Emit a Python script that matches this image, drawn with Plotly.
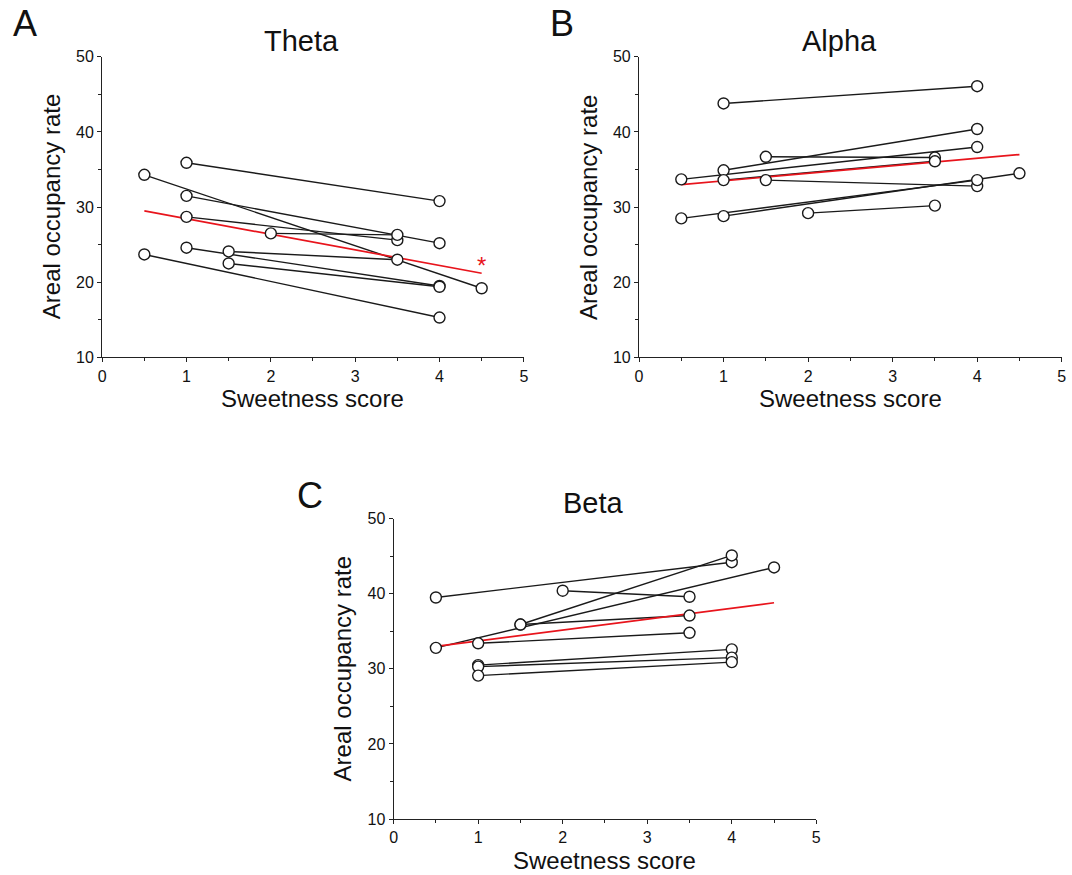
import plotly.graph_objects as go

W, H = 1072, 875

# ---------------- data ----------------
# Theta
theta_x0 = [1, 0.5, 1, 1, 2, 1.5, 1, 1.5, 0.5]
theta_y0 = [35.9, 34.3, 31.5, 28.7, 26.5, 24.1, 24.6, 22.5, 23.7]
theta_x1 = [4, 4.5, 4, 3.5, 3.5, 3.5, 4, 4, 4]
theta_y1 = [30.8, 19.2, 25.2, 25.6, 26.3, 23.0, 19.5, 19.4, 15.3]
theta_fit_x = [0.5, 4.5]
theta_fit_y = [29.5, 21.2]

# Alpha
alpha_x0 = [1, 1, 0.5, 1.5, 1, 1.5, 0.5, 1, 2]
alpha_y0 = [43.8, 34.9, 33.7, 36.7, 33.6, 33.6, 28.5, 28.8, 29.2]
alpha_x1 = [4, 4, 4, 3.5, 3.5, 4, 4, 4.5, 3.5]
alpha_y1 = [46.1, 40.4, 38.0, 36.6, 36.1, 32.8, 33.6, 34.5, 30.2]
alpha_fit_x = [0.5, 4.5]
alpha_fit_y = [33.0, 37.0]

# Beta
beta_x0 = [0.5, 0.5, 1.5, 1.5, 2, 1, 1, 1, 1]
beta_y0 = [39.5, 32.8, 35.9, 35.9, 40.4, 33.4, 30.5, 30.3, 29.1]
beta_x1 = [4, 4.5, 4, 3.5, 3.5, 3.5, 4, 4, 4]
beta_y1 = [44.2, 43.5, 45.1, 37.1, 39.6, 34.8, 32.6, 31.5, 30.9]
beta_fit_x = [0.5, 4.5]
beta_fit_y = [33.0, 38.8]

panel_titles = ["Theta", "Alpha", "Beta"]
panel_letters = ["A", "B", "C"]
x_title = "Sweetness score"
y_title = "Areal occupancy rate"
x_ticks = [0, 1, 2, 3, 4, 5]
y_ticks = [10, 20, 30, 40, 50]

FONT = "Arial, Liberation Sans, Helvetica, sans-serif"

# compensation for observed capture transform
SX, OX = 0.990, 4.0
SY, OY = 0.979, 9.2


def px(x):
    return ((x - OX) / SX) / W


def py(y):
    return 1 - ((y - OY) / SY) / H


# pixel boxes of the plotting areas: (left, right, top, bottom)
boxes = [(102, 523, 58, 358), (638, 1060, 58, 358), (393, 815, 519, 819)]

fig = go.Figure()

panels = [
    (theta_x0, theta_y0, theta_x1, theta_y1, theta_fit_x, theta_fit_y),
    (alpha_x0, alpha_y0, alpha_x1, alpha_y1, alpha_fit_x, alpha_fit_y),
    (beta_x0, beta_y0, beta_x1, beta_y1, beta_fit_x, beta_fit_y),
]

annotations = []
for i, (x0, y0, x1, y1, fx, fy) in enumerate(panels):
    sfx = "" if i == 0 else str(i + 1)
    xa, ya = "x" + sfx, "y" + sfx
    lx, ly = [], []
    for a, b, c, d in zip(x0, y0, x1, y1):
        lx += [a, c, None]
        ly += [b, d, None]
    fig.add_trace(go.Scatter(x=lx, y=ly, mode="lines", xaxis=xa, yaxis=ya,
                             line=dict(color="#1a1a1a", width=1.4),
                             showlegend=False, hoverinfo="skip", cliponaxis=False))
    fig.add_trace(go.Scatter(x=fx, y=fy, mode="lines", xaxis=xa, yaxis=ya,
                             line=dict(color="#e8141c", width=1.7),
                             showlegend=False, cliponaxis=False))
    fig.add_trace(go.Scatter(x=list(x0) + list(x1), y=list(y0) + list(y1), mode="markers",
                             xaxis=xa, yaxis=ya,
                             marker=dict(symbol="circle", size=11, color="white",
                                         line=dict(color="#1a1a1a", width=1.4)),
                             showlegend=False, cliponaxis=False))
    l, r, t, b = boxes[i]
    axis_common = dict(showline=True, linecolor="#222", linewidth=1.2, showgrid=False,
                       zeroline=False, ticks="outside", ticklen=4, tickwidth=1.2,
                       tickcolor="#222", tickfont=dict(family=FONT, size=16, color="#111"),
                       fixedrange=True)
    fig.layout["xaxis" + sfx] = dict(axis_common, domain=[px(l), px(r)], range=[0, 5],
                                     tickvals=x_ticks, anchor=ya,
                                     minor=dict(dtick=0.5, ticklen=3, ticks="outside",
                                                tickcolor="#222", tickwidth=1))
    fig.layout["yaxis" + sfx] = dict(axis_common, domain=[py(b), py(t)], range=[10, 50],
                                     tickvals=y_ticks, anchor=xa,
                                     minor=dict(dtick=5, ticklen=3, ticks="outside",
                                                tickcolor="#222", tickwidth=1))
    cx = (l + r) / 2
    cy = (t + b) / 2
    annotations.append(dict(text=panel_titles[i], x=px(cx - 11), y=py(t - 16), xref="paper",
                            yref="paper", showarrow=False, xanchor="center", yanchor="middle",
                            font=dict(family=FONT, size=29, color="#111")))
    annotations.append(dict(text=x_title, x=px(cx), y=py(b + 41), xref="paper", yref="paper",
                            showarrow=False, xanchor="center", yanchor="middle",
                            font=dict(family=FONT, size=24, color="#111")))
    annotations.append(dict(text=y_title, x=px(l - 51), y=py(cy), xref="paper", yref="paper",
                            showarrow=False, xanchor="center", yanchor="middle", textangle=-90,
                            font=dict(family=FONT, size=24, color="#111")))

letter_pos = [(25, 25), (561, 25), (310, 496)]
for letter, (lxp, lyp) in zip(panel_letters, letter_pos):
    annotations.append(dict(text=letter, x=px(lxp), y=py(lyp), xref="paper", yref="paper",
                            showarrow=False, xanchor="center", yanchor="middle",
                            font=dict(family=FONT, size=36, color="#111")))

# significance star on Theta fit
annotations.append(dict(text="*", x=theta_fit_x[1], y=theta_fit_y[1], xref="x", yref="y",
                        showarrow=False, xanchor="center", yanchor="bottom", yshift=-8,
                        font=dict(family=FONT, size=24, color="#e8141c")))

fig.update_layout(width=W, height=H, margin=dict(l=0, r=0, t=0, b=0),
                  paper_bgcolor="white", plot_bgcolor="white", annotations=annotations,
                  autosize=False)

fig.write_html(
    "out.html",
    config={"displayModeBar": False},
    post_script="document.body.style.margin='0';document.body.style.padding='0';"
                "document.body.style.overflow='hidden';"
                "document.documentElement.style.overflow='hidden';",
)
